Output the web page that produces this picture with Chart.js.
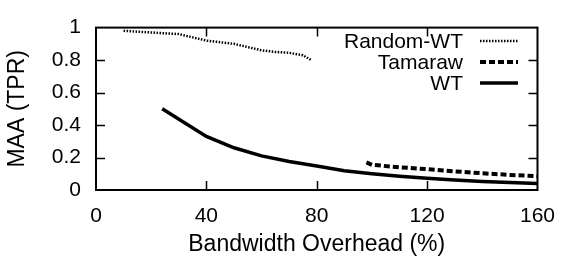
<!DOCTYPE html>
<html>
<head>
<meta charset="utf-8">
<script src="https://cdn.jsdelivr.net/npm/chart.js@4.4.0/dist/chart.umd.min.js"></script>
<style>
  html, body { margin: 0; padding: 0; background: #fff; }
  canvas { display: block; }
</style>
</head>
<body>
<canvas id="c" width="569" height="268"></canvas>
<script>
// values
const randomX = [10, 15, 20, 25, 30, 35, 40, 45, 50, 55, 60, 65, 70, 75, 78];
const randomY = [0.98, 0.975, 0.97, 0.965, 0.96, 0.94, 0.92, 0.91, 0.90, 0.88, 0.86, 0.85, 0.845, 0.83, 0.80];
const tamarawX = [98, 100, 110, 120, 130, 140, 150, 160];
const tamarawY = [0.17, 0.155, 0.14, 0.128, 0.115, 0.103, 0.093, 0.085];
const wtX = [24, 40, 50, 60, 70, 80, 90, 100, 110, 120, 130, 140, 150, 160];
const wtY = [0.5, 0.33, 0.26, 0.21, 0.175, 0.148, 0.118, 0.10, 0.085, 0.072, 0.062, 0.053, 0.046, 0.04];
const seriesNames = ["Random-WT", "Tamaraw", "WT"];
const xTicks = [0, 40, 80, 120, 160];
const yTicks = [0, 0.2, 0.4, 0.6, 0.8, 1];

const FONT = "'Liberation Sans', Arial, Helvetica, sans-serif";
const FS = 21;
const TITLE_FS = 23;

function pts(xs, ys){
    return xs.map(function(x, i){ return {x: x, y: ys[i]}; });
}

// frame with mirrored inward ticks, gnuplot style
const framePlugin = {
    id: "frame",
    afterDraw(chart){
        const ctx = chart.ctx;
        const a = chart.chartArea;
        const xs = chart.scales.x, ys = chart.scales.y;
        const tl = 9;
        ctx.save();
        ctx.strokeStyle = "#000";
        ctx.lineWidth = 1.5;
        ctx.beginPath();
        xTicks.forEach(function(v){
            const px = Math.round(xs.getPixelForValue(v)) + 0.5;
            if(v === xTicks[0] || v === xTicks[xTicks.length-1]) return;
            ctx.moveTo(px, a.bottom); ctx.lineTo(px, a.bottom - tl);
            ctx.moveTo(px, a.top); ctx.lineTo(px, a.top + tl);
        });
        yTicks.forEach(function(v){
            const py = Math.round(ys.getPixelForValue(v)) + 0.5;
            if(v === yTicks[0] || v === yTicks[yTicks.length-1]) return;
            ctx.moveTo(a.left, py); ctx.lineTo(a.left + tl, py);
            ctx.moveTo(a.right, py); ctx.lineTo(a.right - tl, py);
        });
        ctx.stroke();
        ctx.lineWidth = 2;
        ctx.strokeRect(a.left, a.top, a.right - a.left, a.bottom - a.top);
        ctx.restore();
    }
};

// legend: right-aligned names, sample line on the right
const keyPlugin = {
    id: "key",
    afterDatasetsDraw(chart){
        const ctx = chart.ctx;
        const textRight = 463, x0 = 480, x1 = 518;
        const rowY = [41, 62, 83];
        ctx.save();
        chart.data.datasets.forEach(function(ds, i){
            const y = rowY[i];
            ctx.fillStyle = "#000";
            ctx.font = FS + "px " + FONT;
            ctx.textAlign = "right";
            ctx.textBaseline = "middle";
            ctx.fillText(ds.label, textRight, y + 1);
            ctx.strokeStyle = ds.borderColor;
            ctx.lineWidth = ds.borderWidth;
            ctx.setLineDash(ds.borderDash || []);
            ctx.beginPath();
            ctx.moveTo(x0, y); ctx.lineTo(x1, y);
            ctx.stroke();
        });
        ctx.restore();
    }
};

new Chart(document.getElementById("c"), {
    type: "line",
    data: {
        datasets: [
            {label: seriesNames[0], data: pts(randomX, randomY), borderColor: "#000", borderWidth: 2.5, borderDash: [1.5, 1.5]},
            {label: seriesNames[1], data: pts(tamarawX, tamarawY), borderColor: "#000", borderWidth: 4, borderDash: [6, 3]},
            {label: seriesNames[2], data: pts(wtX, wtY), borderColor: "#000", borderWidth: 3.5}
        ]
    },
    options: {
        responsive: false,
        animation: false,
        devicePixelRatio: 1,
        layout: {padding: {top: 11, right: 23, left: 0, bottom: 0}},
        elements: {point: {radius: 0}, line: {tension: 0, borderCapStyle: "butt"}},
        plugins: {legend: {display: false}, tooltip: {enabled: false}},
        scales: {
            x: {
                type: "linear", min: 0, max: 160,
                grid: {display: false, drawTicks: false},
                border: {display: false},
                afterFit: function(s){ s.height = 78; },
                afterBuildTicks: function(s){ s.ticks = xTicks.map(function(v){ return {value: v}; }); },
                ticks: {autoSkip: false, maxRotation: 0, padding: 14, color: "#000", font: {family: FONT, size: FS}},
                title: {display: true, text: "Bandwidth Overhead (%)", color: "#000", font: {family: FONT, size: TITLE_FS}, padding: {top: 0, bottom: 10}}
            },
            y: {
                min: 0, max: 1,
                grid: {display: false, drawTicks: false},
                border: {display: false},
                afterFit: function(s){ s.width = 96; },
                afterBuildTicks: function(s){ s.ticks = yTicks.map(function(v){ return {value: v}; }); },
                ticks: {
                    padding: 15, color: "#000", font: {family: FONT, size: FS},
                    callback: function(v){ return String(+Number(v).toFixed(1)); }
                },
                title: {display: true, text: "MAA (TPR)", color: "#000", font: {family: FONT, size: TITLE_FS}, padding: {top: 4, bottom: 0}}
            }
        }
    },
    plugins: [framePlugin, keyPlugin]
});
</script>
</body>
</html>
